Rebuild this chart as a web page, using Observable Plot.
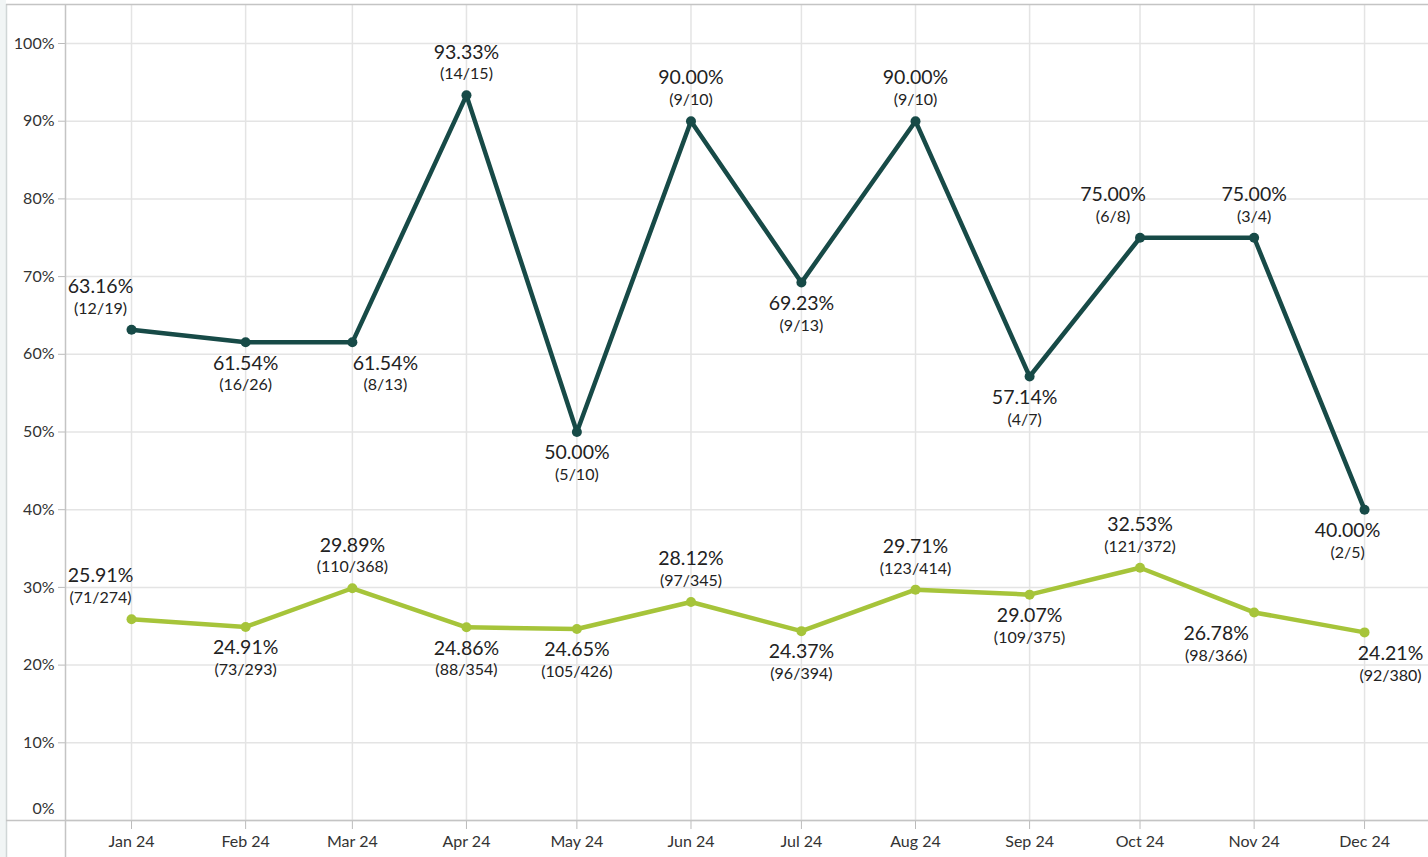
<!DOCTYPE html>
<html>
<head>
<meta charset="utf-8">
<script src="https://cdn.jsdelivr.net/npm/d3@7"></script>
<script src="https://cdn.jsdelivr.net/npm/@observablehq/plot@0.6"></script>
<style>
  html, body { margin: 0; padding: 0; background: #fff; }
  #chart { width: 1428px; height: 857px; }
  svg { display: block; }
</style>
</head>
<body>
<div id="chart"></div>
<script>
// ---- Data ----
const months = ["2024-01-01","2024-02-01","2024-03-01","2024-04-01","2024-05-01","2024-06-01",
                "2024-07-01","2024-08-01","2024-09-01","2024-10-01","2024-11-01","2024-12-01"];
const darkPct = [63.16, 61.54, 61.54, 93.33, 50.00, 90.00, 69.23, 90.00, 57.14, 75.00, 75.00, 40.00];
const darkNum = [12, 16, 8, 14, 5, 9, 9, 9, 4, 6, 3, 2];
const darkDen = [19, 26, 13, 15, 10, 10, 13, 10, 7, 8, 4, 5];
const lightPct = [25.91, 24.91, 29.89, 24.86, 24.65, 28.12, 24.37, 29.71, 29.07, 32.53, 26.78, 24.21];
const lightNum = [71, 73, 110, 88, 105, 97, 96, 123, 109, 121, 98, 92];
const lightDen = [274, 293, 368, 354, 426, 345, 394, 414, 375, 372, 366, 380];
const yTicks = [0, 10, 20, 30, 40, 50, 60, 70, 80, 90, 100];

// ---- Label placement (style config) ----
const darkPlace = [["above",-31],["below",0],["below",33],["above",0],["below",0],["above",0],
                   ["below",0],["above",0],["below",-5],["above",-27],["above",0],["below",-17]];
const lightPlace = [["above",-31],["below",0],["above",0],["below",0],["below",0],["above",0],
                    ["below",0],["above",0],["below",0],["above",0],["below",-38],["below",26]];

const DARK = "#174a47";
const LIGHT = "#a6c43a";
const FONT = "Lato, 'Open Sans', sans-serif";

const dates = months.map(s => new Date(s + "T00:00:00Z"));
const dark = dates.map((d, i) => ({date: d, v: darkPct[i], num: darkNum[i], den: darkDen[i], place: darkPlace[i]}));
const light = dates.map((d, i) => ({date: d, v: lightPct[i], num: lightNum[i], den: lightDen[i], place: lightPlace[i]}));

function labelMarks(series) {
  const marks = [];
  for (const d of series) {
    const [pos, dx] = d.place;
    const dyP = pos === "above" ? -43 : 21;
    const dyF = pos === "above" ? -21 : 43;
    marks.push(Plot.text([d], {x: "date", y: "v", text: p => p.v.toFixed(2) + "%",
      dx, dy: dyP, fontSize: 19.5, fill: "#222", textAnchor: "middle", lineAnchor: "middle"}));
    marks.push(Plot.text([d], {x: "date", y: "v", text: p => `(${p.num}/${p.den})`,
      dx, dy: dyF, fontSize: 16, fill: "#222", textAnchor: "middle", lineAnchor: "middle"}));
  }
  return marks;
}

const xDomain = [new Date(Date.UTC(2023, 11, 14, 8)), new Date(Date.UTC(2024, 11, 18, 9))];

const chart = Plot.plot({
  width: 1428,
  height: 857,
  marginLeft: 66,
  marginRight: 0,
  marginTop: 4,
  marginBottom: 37,
  style: {fontFamily: FONT, background: "#fff", overflow: "visible"},
  x: {type: "utc", domain: xDomain},
  y: {domain: [0, 105.02]},
  marks: [
    Plot.gridY(yTicks, {stroke: "#e4e4e4", strokeOpacity: 1, strokeWidth: 1.5}),
    Plot.ruleX(dates, {stroke: "#e4e4e4", strokeWidth: 1.5}),
    Plot.axisY(yTicks.filter(t => t > 0), {tickFormat: d => d + "%", tickSize: 8, tickPadding: 4, stroke: "#bbb",
      fill: "#333", fontSize: 16, label: null}),
    Plot.axisY([0], {tickFormat: d => d + "%", tickSize: 0, tickPadding: 12, dy: -12,
      fill: "#333", fontSize: 16, label: null}),
    Plot.axisX(dates, {tickFormat: d3.utcFormat("%b %y"), tickSize: 9, tickPadding: 6, stroke: "#bbb",
      fill: "#333", fontSize: 16, label: null}),
    Plot.line(dark, {x: "date", y: "v", stroke: DARK, strokeWidth: 4.5}),
    Plot.dot(dark, {x: "date", y: "v", fill: DARK, r: 5}),
    Plot.line(light, {x: "date", y: "v", stroke: LIGHT, strokeWidth: 4.5}),
    Plot.dot(light, {x: "date", y: "v", fill: LIGHT, r: 5}),
    ...labelMarks(dark),
    ...labelMarks(light)
  ]
});

// decorative frame lines (Tableau-like panes)
const svg = d3.select(chart);
const deco = svg.insert("g", ":first-child");
deco.append("rect").attr("x", 0).attr("y", 0).attr("width", 6).attr("height", 857).attr("fill", "#f1f5f5");
deco.append("rect").attr("x", 6).attr("y", 0).attr("width", 1422).attr("height", 4).attr("fill", "#fff");
const frame = svg.append("g").attr("stroke", "#c4c4c4").attr("stroke-width", 1.5);
frame.append("line").attr("x1", 6.5).attr("x2", 6.5).attr("y1", 4).attr("y2", 857).attr("stroke", "#d0d6d6");
frame.append("line").attr("x1", 6).attr("x2", 1428).attr("y1", 4.5).attr("y2", 4.5);
frame.append("line").attr("x1", 65.5).attr("x2", 65.5).attr("y1", 4).attr("y2", 857);
frame.append("line").attr("x1", 6).attr("x2", 1428).attr("y1", 820.5).attr("y2", 820.5);

document.getElementById("chart").appendChild(chart);
</script>
</body>
</html>
